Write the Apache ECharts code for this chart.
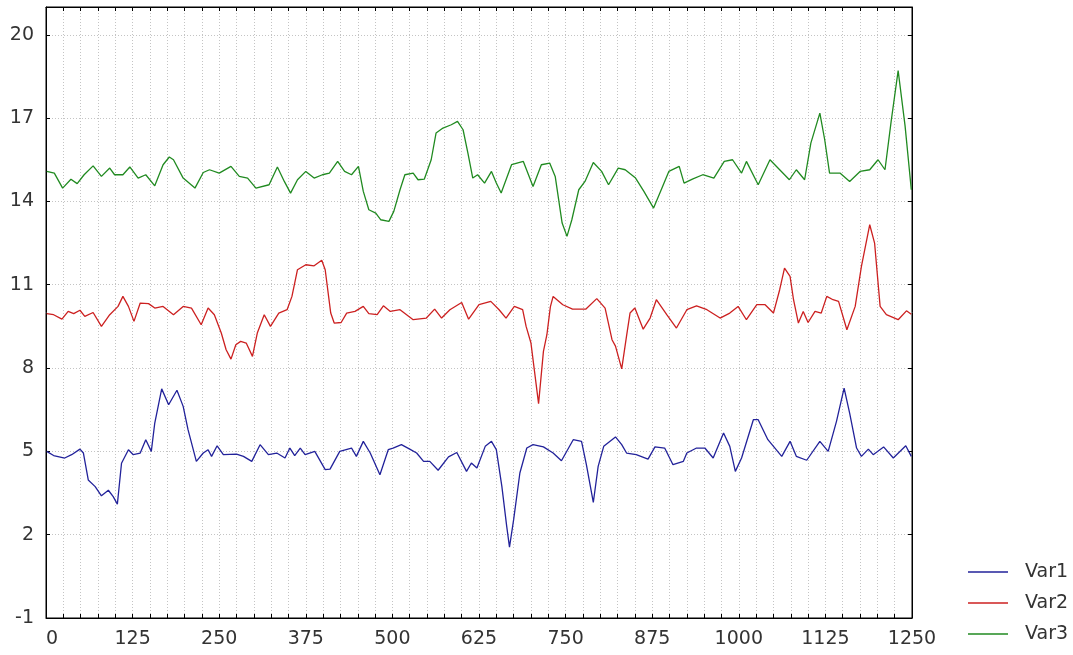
<!DOCTYPE html>
<html>
<head>
<meta charset="utf-8">
<script src="https://cdn.jsdelivr.net/npm/echarts@6/dist/echarts.min.js"></script>
<style>
html,body{margin:0;padding:0;background:#fff;}
#c{width:1073px;height:655px;}
</style>
</head>
<body>
<div id="c"></div>
<script>
const seriesNames = ['Var1', 'Var2', 'Var3'];
const seriesColors = ['#22229a', '#cc2020', '#208a20'];

const var1 = [[1,5.0],[11,4.85],[27,4.76],[37,4.88],[49,5.08],[54,4.94],[61,3.97],[71,3.73],[80,3.4],[90,3.6],[97,3.37],[103,3.1],[109,4.57],[119,5.06],[126,4.88],[136,4.94],[144,5.42],[152,5.0],[157,6.02],[167,7.25],[177,6.68],[189,7.2],[198,6.62],[205,5.78],[217,4.64],[227,4.94],[234,5.06],[239,4.82],[247,5.2],[256,4.88],[275,4.9],[285,4.82],[297,4.64],[309,5.24],[321,4.88],[333,4.94],[345,4.76],[352,5.12],[359,4.85],[367,5.12],[374,4.88],[388,5.0],[403,4.34],[410,4.36],[424,5.0],[441,5.12],[448,4.82],[458,5.36],[468,4.94],[482,4.16],[494,5.06],[501,5.12],[513,5.24],[525,5.08],[535,4.94],[545,4.64],[554,4.64],[566,4.32],[581,4.8],[593,4.96],[607,4.28],[614,4.58],[622,4.4],[634,5.18],[643,5.36],[650,5.06],[658,3.74],[665,2.3],[669,1.55],[675,2.54],[684,4.22],[694,5.12],[703,5.24],[718,5.16],[732,4.94],[744,4.66],[761,5.42],[773,5.36],[780,4.52],[790,3.16],[797,4.46],[805,5.18],[822,5.52],[831,5.24],[838,4.94],[852,4.88],[869,4.72],[879,5.16],[893,5.12],[905,4.52],[920,4.64],[925,4.94],[939,5.12],[951,5.12],[963,4.76],[978,5.66],[987,5.18],[995,4.28],[1004,4.76],[1021,6.14],[1028,6.14],[1042,5.42],[1062,4.82],[1074,5.36],[1083,4.82],[1098,4.68],[1117,5.36],[1129,5.0],[1141,6.08],[1152,7.28],[1160,6.38],[1170,5.12],[1177,4.82],[1187,5.08],[1194,4.88],[1209,5.16],[1223,4.76],[1241,5.2],[1249,4.82]];

const var2 = [[1,9.96],[11,9.92],[23,9.76],[32,10.04],[40,9.96],[49,10.08],[56,9.86],[68,10.0],[80,9.5],[92,9.92],[104,10.22],[111,10.58],[119,10.22],[127,9.68],[136,10.34],[148,10.32],[157,10.16],[169,10.22],[184,9.92],[198,10.22],[210,10.16],[224,9.56],[234,10.16],[243,9.92],[253,9.26],[260,8.66],[267,8.32],[274,8.84],[281,8.96],[289,8.9],[298,8.42],[305,9.26],[315,9.92],[324,9.5],[336,9.98],[348,10.1],[355,10.58],[363,11.54],[375,11.72],[387,11.68],[398,11.88],[403,11.54],[411,9.98],[416,9.62],[426,9.64],[434,9.98],[446,10.04],[458,10.22],[466,9.96],[478,9.92],[487,10.24],[497,10.04],[511,10.1],[530,9.74],[549,9.8],[561,10.12],[571,9.8],[583,10.1],[600,10.36],[610,9.76],[625,10.28],[642,10.4],[654,10.1],[664,9.8],[676,10.22],[688,10.1],[693,9.5],[700,8.9],[711,6.72],[718,8.6],[723,9.2],[728,10.2],[732,10.58],[746,10.28],[760,10.12],[779,10.12],[795,10.5],[807,10.16],[817,9.02],[822,8.79],[831,7.97],[838,9.16],[843,9.98],[850,10.16],[862,9.4],[872,9.8],[881,10.46],[896,9.92],[910,9.44],[925,10.1],[939,10.24],[954,10.1],[973,9.8],[987,9.98],[999,10.22],[1011,9.74],[1026,10.28],[1038,10.28],[1050,9.98],[1059,10.82],[1066,11.6],[1074,11.3],[1079,10.46],[1086,9.62],[1093,10.04],[1100,9.64],[1110,10.04],[1119,9.98],[1127,10.58],[1136,10.46],[1144,10.4],[1156,9.38],[1168,10.22],[1177,11.66],[1189,13.16],[1196,12.5],[1204,10.22],[1213,9.92],[1230,9.74],[1242,10.06],[1249,9.94]];

const var3 = [[1,15.08],[12,15.02],[24,14.48],[36,14.8],[45,14.64],[55,14.96],[68,15.28],[80,14.9],[92,15.2],[99,14.96],[111,14.96],[121,15.24],[133,14.84],[144,14.96],[157,14.56],[169,15.32],[178,15.6],[184,15.5],[198,14.84],[215,14.48],[227,15.04],[236,15.14],[250,15.02],[267,15.26],[279,14.9],[291,14.84],[303,14.48],[322,14.6],[334,15.24],[344,14.72],[353,14.3],[363,14.78],[375,15.08],[387,14.84],[399,14.96],[409,15.02],[421,15.44],[431,15.08],[441,14.96],[451,15.26],[458,14.36],[466,13.7],[476,13.58],[483,13.34],[495,13.28],[502,13.64],[511,14.42],[518,14.96],[530,15.02],[537,14.78],[546,14.8],[556,15.5],[563,16.46],[573,16.64],[585,16.76],[594,16.88],[602,16.58],[609,15.74],[616,14.84],[623,14.96],[633,14.66],[643,15.08],[650,14.66],[657,14.3],[672,15.32],[689,15.44],[703,14.54],[715,15.32],[727,15.38],[735,14.9],[745,13.22],[752,12.74],[759,13.34],[769,14.42],[778,14.72],[790,15.4],[802,15.08],[812,14.6],[826,15.2],[836,15.14],[851,14.84],[863,14.36],[877,13.76],[890,14.54],[899,15.08],[914,15.26],[921,14.66],[933,14.8],[948,14.96],[964,14.84],[979,15.44],[991,15.5],[1004,15.02],[1011,15.44],[1028,14.6],[1045,15.5],[1059,15.14],[1073,14.78],[1083,15.14],[1095,14.78],[1104,16.1],[1117,17.18],[1124,16.22],[1131,15.02],[1146,15.02],[1160,14.72],[1175,15.08],[1189,15.14],[1201,15.5],[1211,15.14],[1220,16.9],[1230,18.71],[1240,16.72],[1249,14.42]];

const xTickLabels = [0,125,250,375,500,625,750,875,1000,1125,1250];
const yTickLabels = [-1,2,5,8,11,14,17,20];

const FONT = 'DejaVu Sans';
const gridLine = {show:true, lineStyle:{color:'#c4c4c4', type:[1,2], width:1}};

const chart = echarts.init(document.getElementById('c'), null, {renderer:'canvas'});
chart.setOption({
  animation:false,
  backgroundColor:'#fff',
  grid:{left:46, right:161, top:7, bottom:37, containLabel:false, show:true, borderColor:'#000', borderWidth:1},
  legend:{
    orient:'vertical', left:963, top:557,
    icon:'rect', itemWidth:40, itemHeight:1.5, itemGap:11,
    data:seriesNames,
    textStyle:{fontFamily:FONT, fontSize:19, color:'#333', padding:[0,0,0,12], lineHeight:20}
  },
  xAxis:[{
    type:'value', min:xTickLabels[0], max:xTickLabels[xTickLabels.length-1], interval:125,
    axisLine:{show:true, onZero:false, lineStyle:{color:'#000', width:1}},
    axisTick:{show:true, inside:true, length:4, lineStyle:{color:'#000'}},
    minorTick:{show:true, splitNumber:5, length:4, lineStyle:{color:'#000'}},
    splitLine:gridLine, minorSplitLine:gridLine,
    axisLabel:{fontFamily:FONT, fontSize:19, color:'#333', margin:12, alignMinLabel:'left',
      formatter:v => String(v)}
  },{
    type:'value', position:'top', min:xTickLabels[0], max:xTickLabels[xTickLabels.length-1], interval:125,
    axisLine:{show:true, onZero:false, lineStyle:{color:'#000'}},
    axisTick:{show:true, inside:true, length:4, lineStyle:{color:'#000'}},
    minorTick:{show:true, splitNumber:5, length:4, lineStyle:{color:'#000'}},
    splitLine:{show:false}, axisLabel:{show:false}
  }],
  yAxis:[{
    type:'value', min:yTickLabels[0], max:21, interval:3,
    axisLine:{show:true, onZero:false, lineStyle:{color:'#000'}},
    axisTick:{show:true, inside:true, length:4, lineStyle:{color:'#000'}},
    splitLine:gridLine,
    axisLabel:{fontFamily:FONT, fontSize:19, color:'#333', margin:12, showMaxLabel:false,
      formatter:v => yTickLabels.indexOf(v) >= 0 ? String(v) : ''}
  },{
    type:'value', position:'right', min:yTickLabels[0], max:21, interval:3,
    axisLine:{show:true, onZero:false, lineStyle:{color:'#000'}},
    axisTick:{show:true, inside:true, length:4, lineStyle:{color:'#000'}},
    splitLine:{show:false}, axisLabel:{show:false}
  }],
  series:[var1, var2, var3].map((d,i) => ({
    name:seriesNames[i], type:'line', data:d, symbol:'none', showSymbol:false,
    xAxisIndex:0, yAxisIndex:0,
    lineStyle:{color:seriesColors[i], width:1.3}, itemStyle:{color:seriesColors[i]}
  }))
});
</script>
</body>
</html>
